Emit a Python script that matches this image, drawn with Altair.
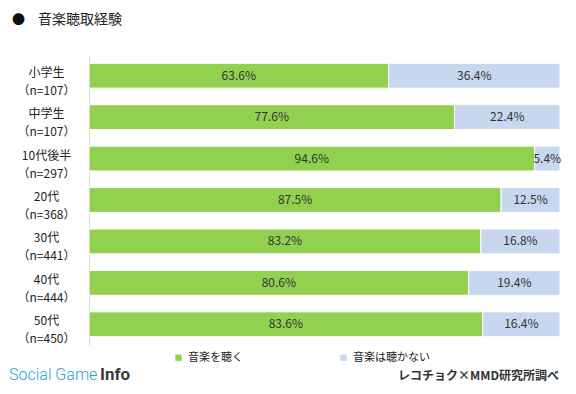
import altair as alt
import pandas as pd

categories = ["小学生", "中学生", "10代後半", "20代", "30代", "40代", "50代"]
sample_n = ["（n=107）", "（n=107）", "（n=297）", "（n=368）", "（n=441）", "（n=444）", "（n=450）"]
listen = [63.6, 77.6, 94.6, 87.5, 83.2, 80.6, 83.6]
not_listen = [36.4, 22.4, 5.4, 12.5, 16.8, 19.4, 16.4]
series = ["音楽を聴く", "音楽は聴かない"]
colors = ["#92D050", "#C6D7EF"]

rows = []
for i, c in enumerate(categories):
    lab = c + "\n" + sample_n[i]
    rows.append({"cat": lab, "series": series[0], "order": 0, "v": listen[i]})
    rows.append({"cat": lab, "series": series[1], "order": 1, "v": not_listen[i]})
df = pd.DataFrame(rows)
cat_order = [c + "\n" + n for c, n in zip(categories, sample_n)]

FONT = "Noto Sans CJK JP"

base = alt.Chart(df)

bars = base.mark_bar(stroke="white", strokeWidth=1).encode(
    y=alt.Y("cat:N", sort=cat_order, title=None,
            scale=alt.Scale(paddingInner=0.4, paddingOuter=0.2),
            axis=alt.Axis(labelExpr="split(datum.label, '\\n')", labelAlign="center",
                          labelPadding=43, ticks=False, tickSize=0, labelFontSize=12,
                          labelFont=FONT, labelColor="#222", labelLineHeight=18,
                          labelBaseline="middle", labelOffset=-3,
                          domainColor="#d9d9d9", domainWidth=1, grid=False)),
    x=alt.X("v:Q", stack="zero", scale=alt.Scale(domain=[0, 100], nice=False),
            axis=None),
    color=alt.Color("series:N", sort=series,
                    scale=alt.Scale(domain=series, range=colors),
                    legend=alt.Legend(title=None, orient="none", direction="horizontal",
                                      columns=2, legendX=84, legendY=297,
                                      symbolType="square", symbolSize=40,
                                      symbolStrokeWidth=0, labelFontSize=11,
                                      labelFont=FONT, labelColor="#222",
                                      columnPadding=95, labelOffset=4)),
    order=alt.Order("order:Q"),
)

labels = base.mark_text(fontSize=12, font=FONT, color="#333").transform_stack(
    stack="v", groupby=["cat"], as_=["v0", "v1"], sort=[alt.SortField("order")]
).transform_calculate(
    mid="(datum.v0 + datum.v1) / 2",
    txt="format(datum.v, '.1f') + '%'",
).encode(
    y=alt.Y("cat:N", sort=cat_order),
    x=alt.X("mid:Q"),
    text="txt:N",
)

ann = pd.DataFrame({"t": ["x"]})
def txt(text, x, y, size, weight="normal", color="#222", font=FONT, align="left",
        baseline="middle"):
    return alt.Chart(ann).mark_text(text=text, fontSize=size, fontWeight=weight,
                                    color=color, font=font, align=align,
                                    baseline=baseline).encode(
        x=alt.value(x), y=alt.value(y))

title_dot = txt("●", -77, -35, 13, color="#111")
title_txt = txt("音楽聴取経験", -51, -35, 14, color="#222")
src = txt("レコチョク×MMD研究所調べ", 470, 321, 12, weight="bold", color="#333", align="right")
sg = txt("Social Game", -80, 325, 16, weight=300, color="#1DA6CF", font="Roboto",
         baseline="alphabetic")
info = txt("Info", 11, 325, 17, weight="bold", color="#3a3a3a", font="Roboto",
           baseline="alphabetic")

chart = alt.layer(bars, labels, title_dot, title_txt, src, sg, info).properties(
    width=471, height=290,
    autosize=alt.AutoSizeParams(type="none"),
    padding={"left": 81, "top": 47, "right": 8, "bottom": 41},
).configure_view(stroke=None)

chart.save("out.html", embed_options={"renderer": "svg", "actions": False})
